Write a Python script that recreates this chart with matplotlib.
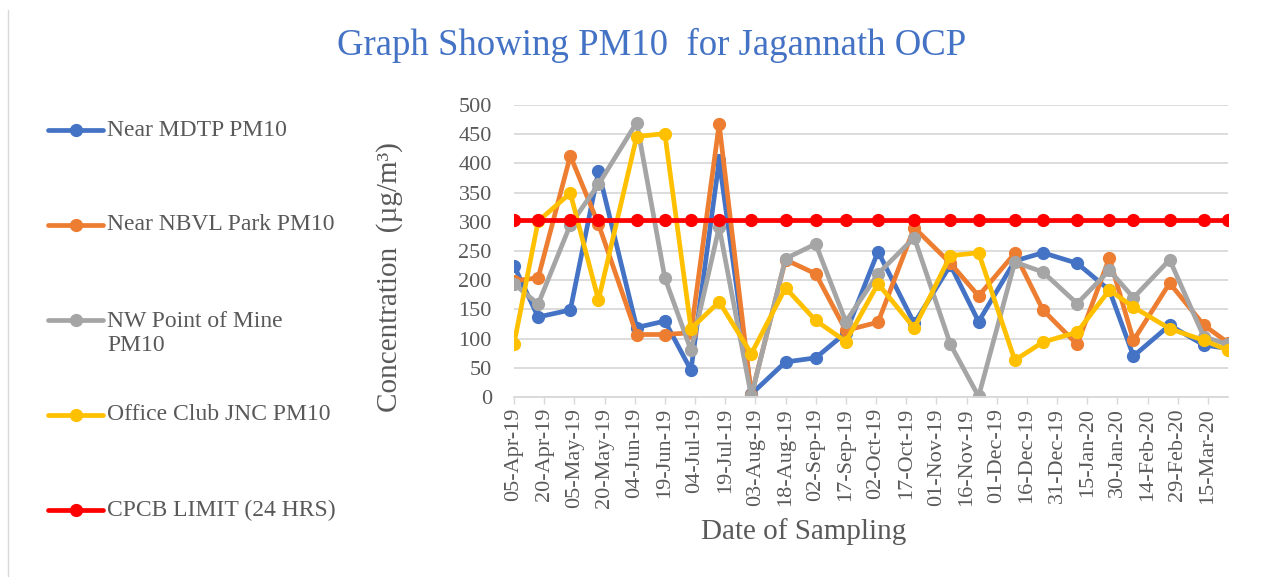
import matplotlib
matplotlib.use("Agg")
import matplotlib.pyplot as plt
import matplotlib.dates as mdates
from matplotlib.lines import Line2D
import numpy as np
import pandas as pd

dates = ["2019-04-05", "2019-04-17", "2019-05-03", "2019-05-17", "2019-06-05",
         "2019-06-19", "2019-07-02", "2019-07-16", "2019-08-01", "2019-08-18",
         "2019-09-02", "2019-09-17", "2019-10-03", "2019-10-21", "2019-11-08",
         "2019-11-22", "2019-12-10", "2019-12-24", "2020-01-10", "2020-01-26",
         "2020-02-07", "2020-02-25", "2020-03-13", "2020-03-25"]

near_mdtp = [225, 137, 149, 387, 119, 130, 46, 405, 5, 60, 67, 110,
             249, 126, 226, 129, 233, 247, 229, 183, 70, 123, 89, 83]
near_nbvl = [199, 204, 413, 296, 107, 107, 110, 467, 3, 235, 211, 114,
             128, 290, 229, 173, 246, 149, 90, 238, 97, 195, 123, 93]
nw_point = [194, 159, 295, 364, 470, 204, 80, 291, 1, 237, 262, 129,
            211, 273, 90, 1, 231, 214, 160, 217, 170, 235, 103, 90]
office_club = [91, 301, 349, 166, 446, 451, 117, 163, 74, 187, 131, 95,
               194, 118, 242, 247, 63, 94, 111, 183, 154, 117, 97, 80]
cpcb_limit = [303] * 24

labels = ["Near MDTP PM10", "Near NBVL Park PM10", "NW Point of Mine\nPM10",
          "Office Club JNC PM10", "CPCB LIMIT (24 HRS)"]
colors = ["#4472C4", "#ED7D31", "#A5A5A5", "#FFC000", "#FF0000"]

TXT = "#595959"
GRID = "#D9D9D9"


def main():
    plt.rcParams["font.family"] = ["Liberation Serif", "DejaVu Serif"]
    x = pd.to_datetime(dates)
    series = [near_mdtp, near_nbvl, nw_point, office_club, cpcb_limit]

    fig = plt.figure(figsize=(12.71, 5.77), dpi=100)
    ax = fig.add_axes([514 / 1271, 1 - 397 / 577, 714 / 1271, 292 / 577])

    for vals, c in zip(series, colors):
        ax.plot(x, vals, color=c, lw=3.4, marker="o", ms=8.5,
                solid_capstyle="round", solid_joinstyle="round")

    ax.set_ylim(0, 500)
    ax.set_yticks(np.arange(0, 501, 50))
    ax.set_xlim(x[0], x[-1])
    ticks = pd.date_range("2019-04-05", "2020-03-25", freq="15D")
    ax.set_xticks(ticks)
    ax.xaxis.set_major_formatter(mdates.DateFormatter("%d-%b-%y"))

    ax.grid(axis="y", color=GRID, lw=1.3)
    ax.set_axisbelow(True)
    for s in ["top", "right", "left"]:
        ax.spines[s].set_visible(False)
    ax.spines["bottom"].set_color(GRID)
    ax.spines["bottom"].set_linewidth(1.3)

    ax.tick_params(axis="y", length=0, pad=16, labelsize=16, labelcolor=TXT)
    ax.tick_params(axis="x", length=5, width=1, color=GRID, pad=3,
                   labelsize=16, labelcolor=TXT, labelrotation=90)

    ax.set_xlabel("Date of Sampling", fontsize=21, color=TXT)
    ax.xaxis.set_label_coords(0.405, -0.415)
    ax.set_ylabel("Concentration  (µg/m³)", fontsize=21, color=TXT)
    ax.yaxis.set_label_coords(-0.155, 0.41)

    fig.text(0.513, 1 - 45 / 577, "Graph Showing PM10  for Jagannath OCP",
             color="#4472C4", fontsize=26.5, ha="center", va="center")

    # legend on the left
    ys = [130, 225, 333.5, 415, 510]
    line_ys = [130, 225, 320, 415, 510]
    for lab, c, ty, ly in zip(labels, colors, ys, line_ys):
        fig.add_artist(Line2D([48 / 1271, 103 / 1271], [1 - ly / 577] * 2,
                              color=c, lw=3.4, solid_capstyle="round"))
        fig.add_artist(Line2D([76 / 1271], [1 - ly / 577], color=c,
                              marker="o", ms=8.5))
        fig.text(107 / 1271, 1 - ty / 577, lab, fontsize=17, color=TXT,
                 ha="left", va="center", linespacing=1.15)

    # chart-area border line on the left
    fig.add_artist(Line2D([8 / 1271] * 2, [0, 1 - 10 / 577], color=GRID, lw=1))

    fig.savefig("out.png", dpi=100)


if __name__ == "__main__":
    main()
